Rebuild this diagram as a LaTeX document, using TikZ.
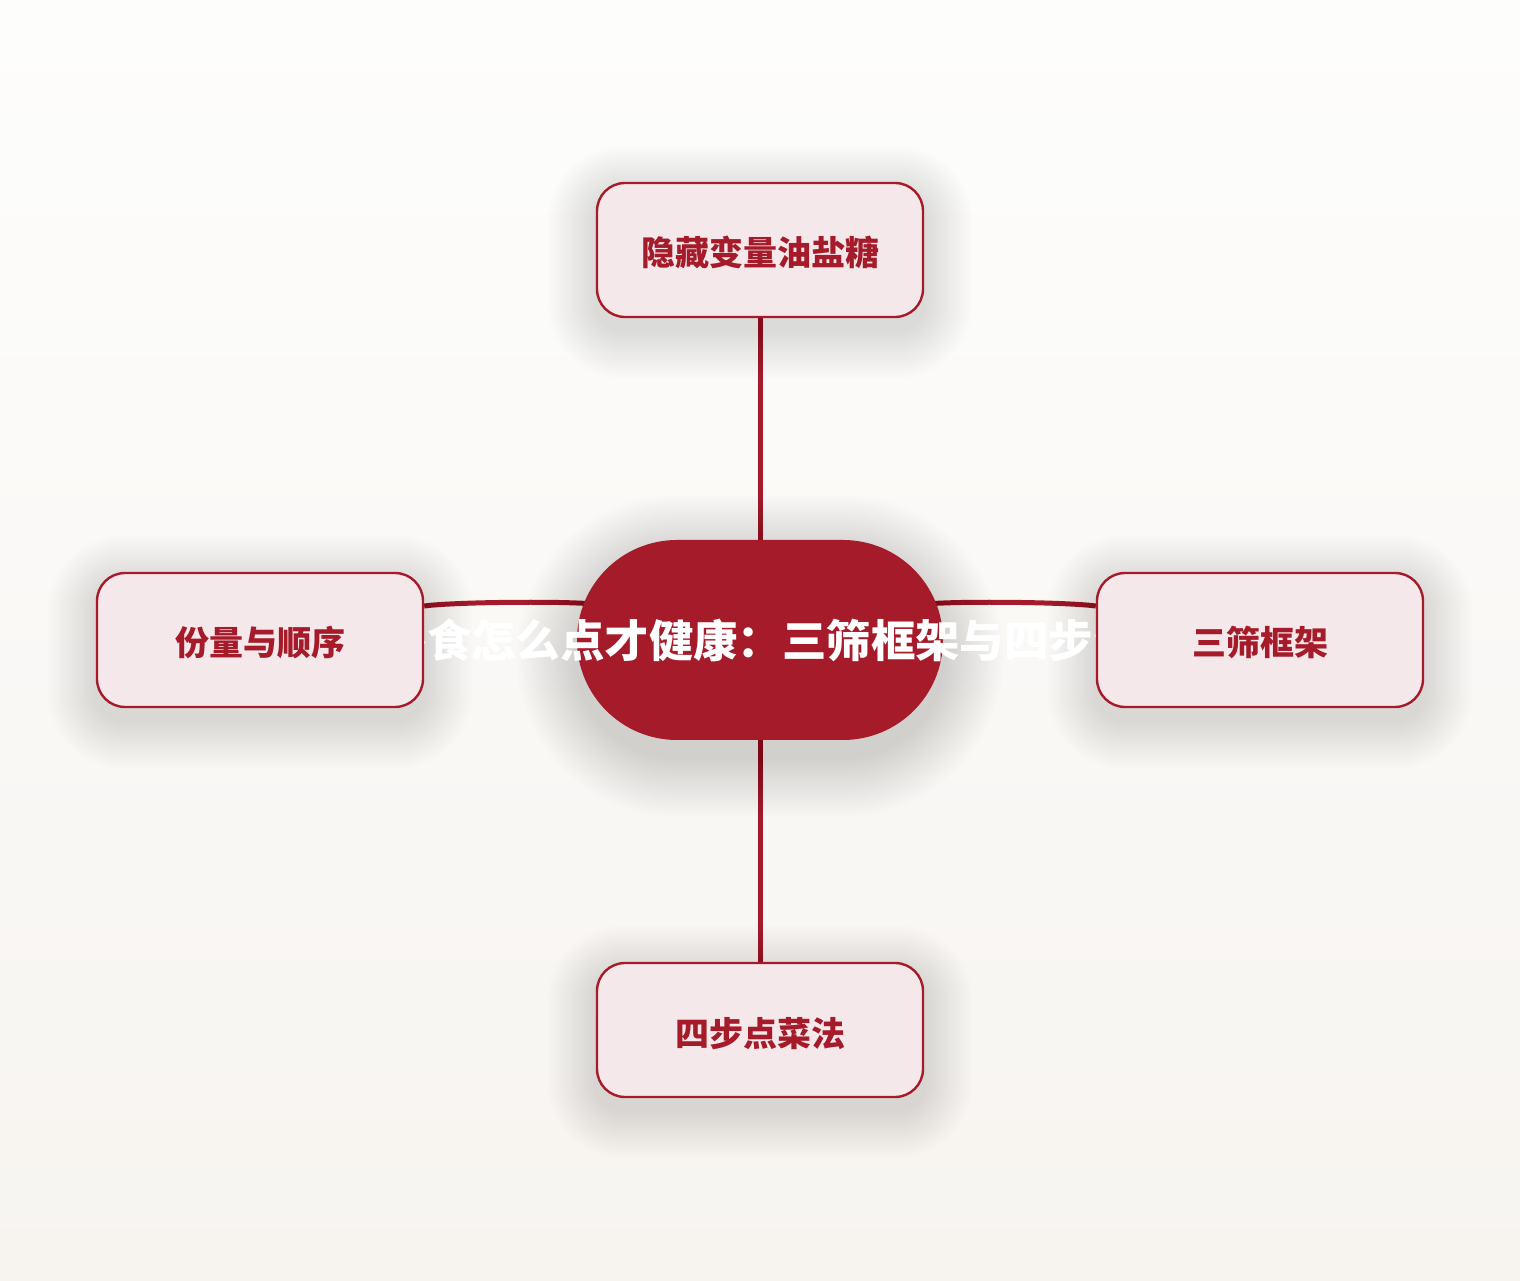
\documentclass[tikz,border=0pt]{standalone}
\usepackage{fontspec}
\newfontfamily\cjk{Noto Sans CJK SC}
\usepackage{tikz}
\usetikzlibrary{positioning}

\definecolor{wine}{HTML}{A51B2A}
\definecolor{blush}{HTML}{F5E8EA}
\definecolor{papertop}{HTML}{FDFDFC}
\definecolor{paperbot}{HTML}{F7F4F0}

\pgfdeclarelayer{paper}
\pgfdeclarelayer{edges}
\pgfdeclarelayer{haze}
\pgfsetlayers{paper,edges,haze,main}

\tikzset{
	topic/.style={draw=wine, line width=1.2pt, fill=blush, rounded corners=14pt,
		minimum width=163pt, minimum height=67pt, text=wine,
		text height=18pt, text depth=2pt,
		font=\cjk\bfseries\fontsize{17}{20}\selectfont},
	root/.style={fill=wine, rounded corners=50pt, minimum width=183pt, minimum height=100pt},
	roottext/.style={text=white, font=\cjk\bfseries\fontsize{22.2}{26}\selectfont},
	branch/.style={draw=wine, line width=2.5pt},
	shade/.style={fill=black, opacity=#1}
}

\begin{document}
\begin{tikzpicture}[x=0.5pt,y=0.5pt]
	%background
	\begin{pgfonlayer}{paper}
	\fill[top color=papertop, bottom color=paperbot] (0,0) rectangle (1520,1280);
	\end{pgfonlayer}
	\useasboundingbox (0,0) rectangle (1520,1280);

	%centre
	\node[root] (title) at (760,640) {};
	\node[roottext] (titletext) at (title) {外食怎么点才健康：三筛框架与四步法};

	%topics
	\node[topic] (hidden) at (760,1030) {隐藏变量油盐糖};
	\node[topic] (portion) at (260,640) {份量与顺序};
	\node[topic] (filter) at (1260,640) {三筛框架};
	\node[topic] (steps) at (760,250) {四步点菜法};

	%shadows
	\begin{pgfonlayer}{haze}
	\foreach \i in {1,...,20}{
		\pgfmathsetmacro\gr{\i*3}
		\pgfmathsetmacro\rr{50+\gr/2}
		\fill[shade=0.009, rounded corners=\rr pt]
			([shift={(-\gr,-16-\gr)}]title.south west) rectangle ([shift={(\gr,-16+\gr)}]title.north east);
	}
	\foreach \n in {hidden,portion,filter,steps}{
		\foreach \i in {1,...,16}{
			\pgfmathsetmacro\gr{\i*3}
			\pgfmathsetmacro\rr{14+\gr/2}
			\fill[shade=0.008, rounded corners=\rr pt]
				([shift={(-\gr,-12-\gr)}]\n.south west) rectangle ([shift={(\gr,-12+\gr)}]\n.north east);
		}
	}
	\end{pgfonlayer}

	%branches
	\begin{pgfonlayer}{edges}
	\draw[branch] (hidden.south) -- (title.north);
	\draw[branch] (title.south) -- (steps.north);
	\draw[branch] ([yshift=17pt]portion.east) .. controls +(30,4) and +(-30,3) .. ([xshift=8pt,yshift=18pt]title.west);
	\draw[branch] ([xshift=-8pt,yshift=18pt]title.east) .. controls +(30,3) and +(-30,4) .. ([yshift=17pt]filter.west);
	\end{pgfonlayer}
\end{tikzpicture}
\end{document}
